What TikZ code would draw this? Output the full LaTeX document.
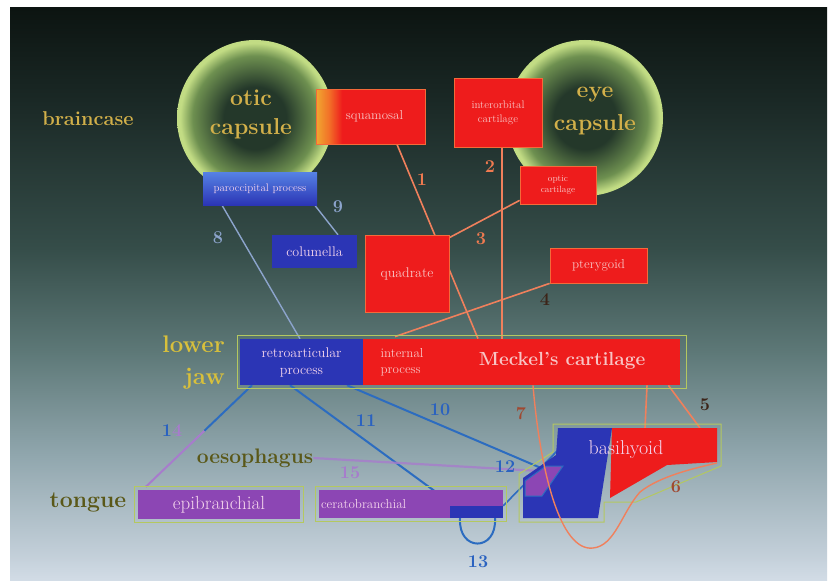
\documentclass[tikz,border=0pt]{standalone}
\usetikzlibrary{calc}
\definecolor{bgT}{HTML}{0C1411}
\definecolor{bgA}{HTML}{1A2825}
\definecolor{bgB}{HTML}{354D49}
\definecolor{bgC}{HTML}{5D7877}
\definecolor{bgD}{HTML}{90A6AD}
\definecolor{bgE}{HTML}{C4D0DA}
\definecolor{bgF}{HTML}{D2DCE6}
\definecolor{capC}{HTML}{24382A}
\definecolor{capM}{HTML}{6E9050}
\definecolor{capE}{HTML}{C2DC84}
\definecolor{redB}{HTML}{EE1C1C}
\definecolor{redE}{HTML}{F46A3A}
\definecolor{orgL}{HTML}{F0A830}
\definecolor{orgM}{HTML}{F27028}
\definecolor{boxtxt}{HTML}{F8C4C4}
\definecolor{blueB}{HTML}{2B35B5}
\definecolor{blueT}{HTML}{5682E4}
\definecolor{boxtxtb}{HTML}{F4D4EC}
\definecolor{purpB}{HTML}{8C46B4}
\definecolor{frameY}{HTML}{B4C860}
\definecolor{salmon}{HTML}{F0805C}
\definecolor{blueL}{HTML}{2C6CC0}
\definecolor{blueG}{HTML}{8CA4CC}
\definecolor{purpL}{HTML}{A77CCC}
\definecolor{goldT}{HTML}{D2B04A}
\definecolor{jawT}{HTML}{D8C03C}
\definecolor{tongT}{HTML}{5A5818}
\definecolor{numS}{HTML}{F07A50}
\definecolor{numD}{HTML}{3C2418}
\definecolor{numR}{HTML}{A04830}
\definecolor{blueN}{HTML}{2A62C0}
\pgfdeclareverticalshading{bgshade}{100bp}{color(0bp)=(bgF); color(25bp)=(bgF); color(27bp)=(bgE); color(36bp)=(bgD); color(45bp)=(bgC); color(54bp)=(bgB); color(67bp)=(bgA); color(75bp)=(bgT); color(100bp)=(bgT)}
\pgfdeclareradialshading{capshade}{\pgfpoint{0bp}{0bp}}{color(0bp)=(capC); color(10bp)=(capC); color(20bp)=(capM); color(24bp)=(capE); color(25bp)=(capE); color(50bp)=(capE)}
\pgfdeclarehorizontalshading{sqshade}{100bp}{color(0bp)=(orgL); color(25bp)=(orgL); color(31bp)=(orgM); color(37bp)=(redB); color(100bp)=(redB)}
\pgfdeclarelayer{bglayer}
\pgfdeclarelayer{lnlayer}
\pgfsetlayers{bglayer,lnlayer,main}
\newcommand{\fsz}[2]{\fontsize{#1}{#2}\selectfont}
\begin{document}
\begin{tikzpicture}[x=1pt,y=-1pt,
  redbox/.style={fill=redB, draw=redE, line width=0.8pt, text=boxtxt, inner sep=1pt, align=center},
  bluebox/.style={fill=blueB, text=boxtxtb, inner sep=1pt, align=center},
  purpbox/.style={fill=purpB, text=boxtxtb, inner sep=1pt},
  frame/.style={draw=frameY, line width=1pt},
  conn/.style={salmon, line width=1.6pt},
  bconn/.style={blueL, line width=2pt},
  gconn/.style={blueG, line width=1.4pt},
  numlab/.style={font=\fsz{18}{18}\bfseries, inner sep=0pt},
  bigtext/.style={font=\fsz{22}{28}\bfseries, inner sep=0pt, align=center}
]
\useasboundingbox (0,0) rectangle (834,586);
\begin{pgfonlayer}{bglayer}
  \fill[white] (0,0) rectangle (834,586);
  \path[shade, shading=bgshade] (10,8) rectangle (827,580);
  \path[shade, shading=capshade] (255,118) circle (78);
  \path[shade, shading=capshade] (585,118) circle (78);
\end{pgfonlayer}

% capsule / region labels
\node[bigtext, text=goldT, font=\fsz{23}{29}\bfseries] (otic) at (251,114) {otic\\capsule};
\node[bigtext, text=goldT, font=\fsz{23}{33}\bfseries] (eye) at (595,111) {eye\\capsule};
\node[bigtext, text=goldT, font=\fsz{20}{24}\bfseries] (brain) at (88,119) {braincase};
\node[bigtext, text=jawT, font=\fsz{24}{32}\bfseries, align=right, anchor=east] (lowjaw) at (225,363) {lower\\jaw};
\node[bigtext, text=tongT, font=\fsz{21}{24}\bfseries] (oes) at (255,458) {oesophagus};
\node[bigtext, text=tongT, font=\fsz{23}{24}\bfseries] (tongue) at (88,503) {tongue};

% red boxes
\node[redbox, shade, shading=sqshade, minimum width=109pt, minimum height=55pt, font=\fsz{13}{15}] (sq) at (370.5,116.5) {\hspace*{8pt}squamosal};
\node[redbox, minimum width=88pt, minimum height=69pt, font=\fsz{11}{14}] (ioc) at (498,112.5) {interorbital\\cartilage};
\node[redbox, minimum width=76pt, minimum height=38pt, font=\fsz{9}{11}] (opt) at (558,185) {optic\\cartilage};
\node[redbox, minimum width=84pt, minimum height=77pt, font=\fsz{14}{16}] (qu) at (407,273.5) {quadrate};
\node[redbox, minimum width=97pt, minimum height=35pt, font=\fsz{13}{15}] (pt) at (598.5,265.5) {pterygoid};

% blue boxes
\node[bluebox, top color=blueT, bottom color=blueB, minimum width=114pt, minimum height=33pt, font=\fsz{11}{12}] (par) at (260,188.5) {paroccipital process};
\node[bluebox, minimum width=85pt, minimum height=33pt, font=\fsz{14}{16}] (col) at (314.5,251.5) {columella};

% lower jaw
\node[frame, minimum width=449pt, minimum height=53pt, inner sep=0pt] (jaw) at (461.5,361.5) {};
\node[bluebox, minimum width=123pt, minimum height=46pt, font=\fsz{14}{17}] (ret) at (301.5,362) {retroarticular\\process};
\node[redbox, draw=none, minimum width=317pt, minimum height=46pt] (mec) at (521.5,362) {};
\node[text=boxtxt, font=\fsz{13}{16}, align=left, inner sep=0pt] (intp) at (402,362) {internal\\process};
\node[text=boxtxt, font=\fsz{19}{19}\bfseries, inner sep=0pt] (mect) at (562,361) {Meckel's cartilage};

% tongue boxes
\node[purpbox, minimum width=162pt, minimum height=29pt, font=\fsz{19}{19}] (epi) at (219,504.5) {epibranchial};
\draw[frame] ($(epi.north west)+(-3,-3)$) rectangle ($(epi.south east)+(3,3)$);
\node[purpbox, minimum width=184pt, minimum height=28pt, font=\fsz{13}{13}, text width=180pt, align=left] (cer) at (411,504) {ceratobranchial};
\draw[frame] ($(cer.north west)+(-3,-3)$) rectangle ($(cer.south east)+(3,3)$);
\node[fill=blueB, minimum width=53pt, minimum height=12pt, inner sep=0pt] (cerb) at (476.5,512) {};

% basihyoid
\coordinate (bhA) at (558,428);
\coordinate (bhB) at (612,428);
\coordinate (bhC) at (717,428);
\coordinate (bhD) at (717,462);
\coordinate (bhE) at (667,465);
\coordinate (bhF) at (610,498);
\coordinate (bhG) at (598,518);
\coordinate (bhH) at (523,518);
\coordinate (bhI) at (523,478);
\coordinate (bhJ) at (556,455);
\coordinate (bh5) at (700,428);
\coordinate (bh6) at (645,428);
\coordinate (bh7) at (717,463);
\coordinate (bh10) at (541,468);
\coordinate (bh12) at (560,448);
\coordinate (bh15) at (540,471);
\draw[frame] (553,424) -- (721,424) -- (721,466) -- (636,502) -- (604,502) -- (604,522) -- (519,522) -- (519,474) -- (553,452) -- cycle;
\fill[redB] (bhB) -- (bhC) -- (bhD) -- (bhE) -- (bhF) -- cycle;
\fill[blueB] (bhA) -- (bhB) -- (bhG) -- (bhH) -- (bhI) -- (bhJ) -- cycle;
\filldraw[fill=purpB, draw=blueL, line width=1pt] (525,481) -- (546,466) -- (563,466) -- (542,496) -- (525,496) -- cycle;
\node[text=boxtxtb, font=\fsz{20}{20}, inner sep=0pt] (bh) at (626,450) {basihyoid};

% connectors
\begin{pgfonlayer}{lnlayer}
  \draw[conn] ([xshift=26.5pt]sq.south) -- ([xshift=-43.5pt]mec.north);
  \draw[conn] ([xshift=4pt]ioc.south) -- ([xshift=-19.5pt]mec.north);
  \draw[conn] ([yshift=4pt]opt.south west) -- ([yshift=-3pt]qu.north east);
  \draw[conn] (pt.south west) -- ([xshift=-126.5pt,yshift=2pt]mec.north);
  \draw[conn] ([xshift=-12pt]mec.south east) -- (bh5);
  \draw[conn] ([xshift=125.5pt]mec.south) -- (bh6);
  \draw[gconn] ([xshift=-38pt]par.south) -- ([xshift=-1.5pt]ret.north);
  \draw[gconn] ([xshift=-4pt,yshift=2pt]par.south east) -- ([xshift=23.5pt]col.north);
  \draw[bconn] ([xshift=45.5pt]ret.south) -- (bh10);
  \draw[bconn] ([xshift=-11.5pt]ret.south) -- ([xshift=5pt]cerb.north west);
  \coordinate (r14) at ([xshift=-49.5pt]ret.south);
  \coordinate (e14) at ([xshift=8pt,yshift=3pt]epi.north west);
  \draw[bconn] (r14) -- ($(r14)!0.45!(e14)$);
  \draw[purpL, line width=2pt] ($(r14)!0.45!(e14)$) -- (e14);
  \draw[blueL, line width=1.6pt] (cerb.north east) -- (bh12);
  \draw[bconn] ([xshift=-16.5pt]cerb.south) .. controls (458,552) and (497,552) .. ([xshift=18.5pt]cerb.south);
  \draw[purpL, line width=2.2pt, opacity=0.8] (oes.east) -- (bh15);
\end{pgfonlayer}
\draw[conn, line width=1.4pt] ([xshift=11.5pt]mec.south) .. controls (540,470) and (560,552) .. (593,548)
   .. controls (615,546) and (622,512) .. (640,492) .. controls (660,476) and (695,468) .. (bh7);

% number labels
\node[numlab, text=numS] (n1) at (422,180) {1};
\node[numlab, text=numS] (n2) at (490,167) {2};
\node[numlab, text=numS] (n3) at (481,239) {3};
\node[numlab, text=numD] (n4) at (545,300) {4};
\node[numlab, text=numD] (n5) at (705,405) {5};
\node[numlab, text=numR] (n6) at (676,487) {6};
\node[numlab, text=numR] (n7) at (521,414) {7};
\node[numlab, text=blueG] (n8) at (218,238) {8};
\node[numlab, text=blueG] (n9) at (338,207) {9};
\node[numlab, text=blueN] (n10) at (440,410) {10};
\node[numlab, text=blueN] (n11) at (366,421) {11};
\node[numlab, text=blueN] (n12) at (505,467) {12};
\node[numlab, text=blueN] (n13) at (478,562) {13};
\node[numlab, text=blueN] (n14) at (172,431) {1\textcolor{purpL}{4}};
\node[numlab, text=purpL] (n15) at (350,473) {15};
\end{tikzpicture}
\end{document}
